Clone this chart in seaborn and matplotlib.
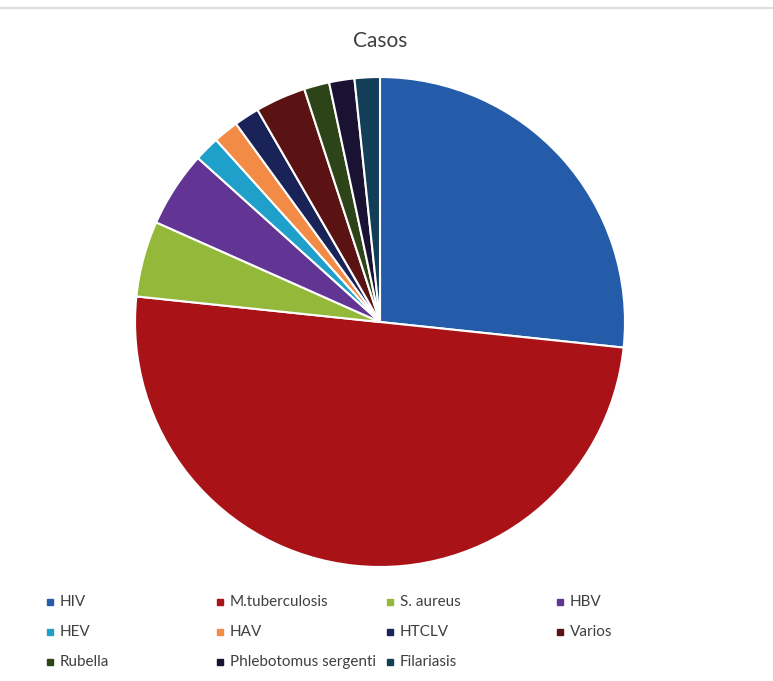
import matplotlib
matplotlib.use("Agg")
from matplotlib import pyplot as plt
from matplotlib.lines import Line2D
import seaborn as sns

# data (counts per agent)
agentes = ["HIV", "M.tuberculosis", "S. aureus", "HBV", "HEV", "HAV",
           "HTCLV", "Varios", "Rubella", "Phlebotomus sergenti", "Filariasis"]
casos = [16, 30, 3, 3, 1, 1, 1, 2, 1, 1, 1]
colores = ["#255CA9", "#A91216", "#94B93A", "#623493", "#1FA0CB", "#F28B45",
           "#1A2358", "#5A1213", "#2D4418", "#1A1233", "#123F57"]

sns.set_theme(style="white")
plt.rcParams["font.family"] = ["Lato", "DejaVu Sans"]

W, H = 773, 681
fig = plt.figure(figsize=(W / 100, H / 100), dpi=100)
ax = fig.add_axes([0.1746, 0.1674, 0.634, 0.7195])
ax.pie(casos, colors=colores, startangle=90, counterclock=False,
       wedgeprops=dict(edgecolor="white", linewidth=1.5))
ax.set_xlim(-1.0, 1.0)
ax.set_ylim(-1.0, 1.0)
ax.set_aspect("equal")
ax.axis("off")

fig.text(380 / W, 1 - 41 / H, "Casos", ha="center", va="center", fontsize=15, color="#404040")

# thin grey rule at the top of the screenshot
fig.add_artist(Line2D([0, 1], [1 - 8 / H, 1 - 8 / H], color="#dddddd", lw=1.5,
                      transform=fig.transFigure))

# legend, row by row in four fixed columns
for i, (nombre, c) in enumerate(zip(agentes, colores)):
    col, fila = i % 4, i // 4
    x = (50 + 170 * col) / W
    y = 1 - (602 + 30 * fila) / H
    fig.add_artist(Line2D([x], [y], marker="s", markersize=5, color=c,
                          linestyle="none", transform=fig.transFigure))
    fig.text(x + 10 / W, y, nombre, ha="left", va="center", fontsize=11, color="#404040")

fig.savefig("out.png", dpi=100, facecolor="white")
